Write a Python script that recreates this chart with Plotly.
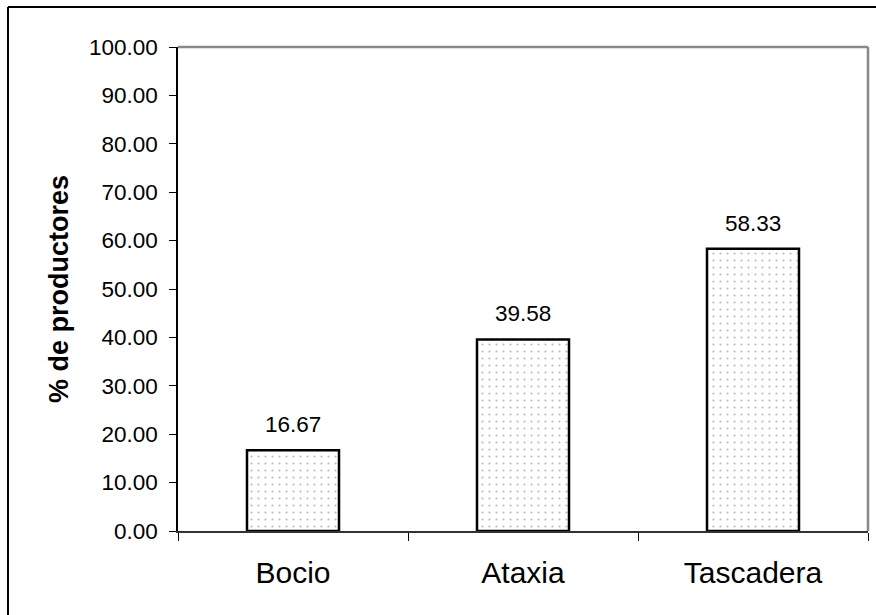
import plotly.graph_objects as go

categories = ["Bocio", "Ataxia", "Tascadera"]
values = [16.67, 39.58, 58.33]
y_ticks = [0, 10, 20, 30, 40, 50, 60, 70, 80, 90, 100]

FONT = "Arial, Liberation Sans, sans-serif"

fig = go.Figure()
fig.add_trace(go.Bar(
    x=categories,
    y=values,
    width=0.4,
    marker=dict(
        color="white",
        line=dict(color="black", width=2.5),
        pattern=dict(shape=".", fgcolor="#777777", bgcolor="white",
                     size=7, solidity=0.08),
    ),
    hoverinfo="skip",
))

# value labels above each bar
for c, v in zip(categories, values):
    fig.add_annotation(x=c, y=v, text=f"{v:.2f}", showarrow=False,
                       yanchor="bottom", yshift=11,
                       font=dict(family=FONT, size=22.5, color="black"))

# outer chart frame (left and top edges)
fig.add_shape(type="line", xref="paper", yref="paper",
              x0=-0.2464, x1=-0.2464, y0=1.0826, y1=-0.2, line=dict(color="black", width=2))
fig.add_shape(type="line", xref="paper", yref="paper",
              x0=-0.2464, x1=1.02, y0=1.0826, y1=1.0826, line=dict(color="black", width=2))
# plot-area border on top and right
fig.add_shape(type="line", xref="paper", yref="paper",
              x0=0, x1=1, y0=1, y1=1, line=dict(color="#888888", width=2.5))
fig.add_shape(type="line", xref="paper", yref="paper",
              x0=1, x1=1, y0=0, y1=1, line=dict(color="#888888", width=2.5))

fig.update_layout(
    width=876, height=615,
    margin=dict(l=178, r=8, t=47, b=84),
    plot_bgcolor="white", paper_bgcolor="white",
    showlegend=False,
    font=dict(family=FONT, color="black"),
    bargap=0.6,
)
fig.update_xaxes(
    showline=True, linecolor="#333333", linewidth=2,
    ticks="outside", tickson="boundaries", ticklen=8, tickcolor="black", tickwidth=1,
    tickfont=dict(family=FONT, size=30, color="black"),
    showgrid=False, ticklabelstandoff=14,
)
fig.update_yaxes(
    range=[0, 100], tickvals=y_ticks, tickformat=".2f",
    showline=True, linecolor="black", linewidth=1.5,
    ticks="outside", ticklen=7, tickcolor="black", tickwidth=1,
    tickfont=dict(family=FONT, size=22.5, color="black"),
    showgrid=False, zeroline=False, ticklabelstandoff=7,
    title=dict(text="<b>% de productores</b>", font=dict(family=FONT, size=27, color="black"),
               standoff=12),
)

fig.write_html("out.html")
